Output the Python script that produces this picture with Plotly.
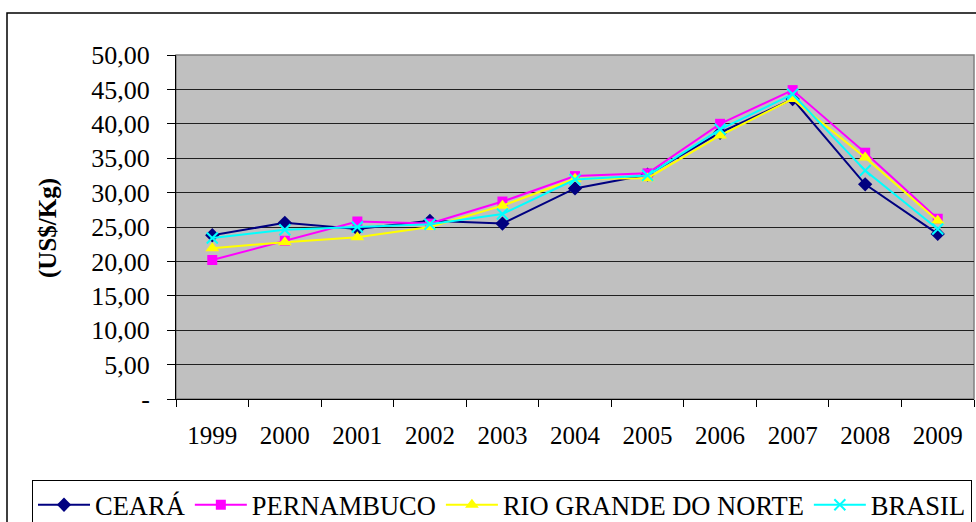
import plotly.graph_objects as go

years = ["1999", "2000", "2001", "2002", "2003", "2004", "2005", "2006", "2007", "2008", "2009"]
ceara = [23.8, 25.6, 24.7, 25.9, 25.5, 30.6, 32.6, 38.7, 43.6, 31.2, 24.0]
pernambuco = [20.2, 23.0, 25.8, 25.5, 28.7, 32.4, 32.8, 40.0, 44.9, 35.8, 26.2]
rio_grande = [21.9, 22.8, 23.5, 25.0, 28.1, 32.0, 32.1, 38.3, 43.6, 35.1, 25.9]
brasil = [23.4, 24.6, 25.0, 25.4, 26.9, 31.9, 32.5, 39.2, 44.3, 33.2, 24.7]

y_tickvals = [0, 5, 10, 15, 20, 25, 30, 35, 40, 45, 50]
y_ticktext = ["-", "5,00", "10,00", "15,00", "20,00", "25,00", "30,00", "35,00", "40,00", "45,00", "50,00"]

FONT = "Liberation Serif"

series = [
    ("CEARÁ", ceara, "#000080", "diamond", 11),
    ("PERNAMBUCO", pernambuco, "#FF00FF", "square", 10),
    ("RIO GRANDE DO NORTE", rio_grande, "#FFFF00", "triangle-up", 12),
    ("BRASIL", brasil, "#00FFFF", "x-thin", 11),
]

fig = go.Figure()
for name, vals, color, sym, size in series:
    marker = dict(symbol=sym, size=size, color=color)
    if sym == "x-thin":
        marker["line"] = dict(color=color, width=2)
    else:
        marker["line"] = dict(width=0)
    fig.add_trace(go.Scatter(
        x=years, y=vals, name=name, mode="lines+markers",
        line=dict(color=color, width=2), marker=marker,
    ))

L, R, T, B = 176, 2, 55, 123
W, H = 976, 522
pw = W - L - R
ph = H - T - B

def px_x(px):
    return (px - L) / pw

def px_y(py):
    return (H - B - py) / ph

fig.update_layout(
    width=W, height=H,
    margin=dict(l=L, r=R, t=T, b=B, autoexpand=False),
    paper_bgcolor="white",
    plot_bgcolor="#C0C0C0",
    font=dict(family=FONT, size=24, color="black"),
    showlegend=True,
    legend=dict(
        orientation="h",
        x=px_x(32), xanchor="left",
        y=px_y(480), yanchor="top",
        bordercolor="black", borderwidth=1,
        bgcolor="white",
        font=dict(family=FONT, size=26.5, color="black"),
        itemwidth=52,
        tracegroupgap=0,
    ),
    xaxis=dict(
        type="category",
        range=[-0.5, 10.5],
        showgrid=False,
        showline=True, linecolor="black", linewidth=1,
        ticks="outside", ticklen=7, tickcolor="black",
        tickson="boundaries",
        ticklabelstandoff=14,
        tickfont=dict(family=FONT, size=25, color="black"),
        zeroline=False,
    ),
    yaxis=dict(
        range=[0, 50],
        tickvals=y_tickvals, ticktext=y_ticktext,
        showgrid=True, gridcolor="#202020", gridwidth=1,
        showline=True, linecolor="black", linewidth=1,
        ticks="outside", ticklen=8, tickcolor="black",
        ticklabelstandoff=12,
        tickfont=dict(family=FONT, size=26, color="black"),
        zeroline=False,
    ),
    shapes=[
        dict(type="rect", xref="paper", yref="paper",
             x0=0, x1=1, y0=0, y1=1,
             line=dict(color="#808080", width=1.5), layer="below"),
        dict(type="rect", xref="paper", yref="paper",
             x0=px_x(7), x1=px_x(990), y0=px_y(540), y1=px_y(13),
             line=dict(color="black", width=1.5), layer="below"),
    ],
    annotations=[
        dict(text="<b>(US$/Kg)</b>", xref="paper", yref="paper",
             x=px_x(48), y=px_y(228), xanchor="center", yanchor="middle",
             textangle=-90, showarrow=False,
             font=dict(family=FONT, size=25, color="black")),
    ],
)

fig.write_html(
    "out.html",
    config={"displayModeBar": False},
    post_script="document.body.style.margin='0';document.body.style.overflow='hidden';",
)
